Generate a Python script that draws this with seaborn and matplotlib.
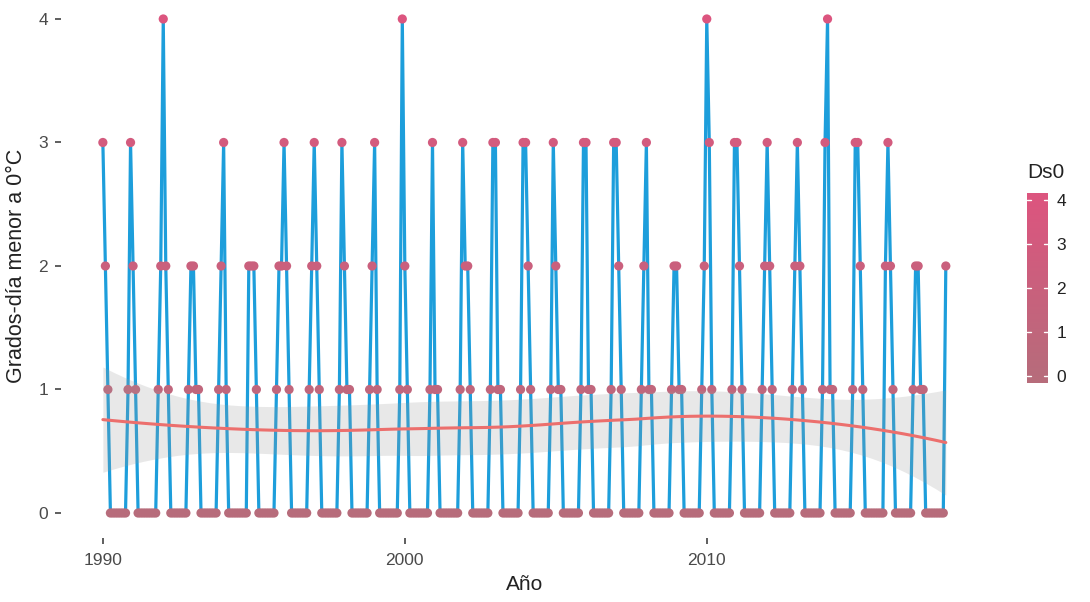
import numpy as np
import pandas as pd
import matplotlib
matplotlib.use("Agg")
import matplotlib.pyplot as plt
import seaborn as sns
from matplotlib.colors import LinearSegmentedColormap

# Monthly degree-days below 0 °C (Jan..Dec) for each year
years = list(range(1990, 2018))
ds0 = [
    [3, 2, 1, 0, 0, 0, 0, 0, 0, 0, 1, 3],  # 1990
    [2, 1, 0, 0, 0, 0, 0, 0, 0, 0, 1, 2],  # 1991
    [4, 2, 1, 0, 0, 0, 0, 0, 0, 0, 1, 2],  # 1992
    [2, 1, 1, 0, 0, 0, 0, 0, 0, 0, 1, 2],  # 1993
    [3, 1, 0, 0, 0, 0, 0, 0, 0, 0, 2, 2],  # 1994
    [2, 1, 0, 0, 0, 0, 0, 0, 0, 1, 2, 2],  # 1995
    [3, 2, 1, 0, 0, 0, 0, 0, 0, 0, 1, 2],  # 1996
    [3, 2, 1, 0, 0, 0, 0, 0, 0, 0, 1, 3],  # 1997
    [2, 1, 1, 0, 0, 0, 0, 0, 0, 0, 1, 2],  # 1998
    [3, 1, 0, 0, 0, 0, 0, 0, 0, 0, 1, 4],  # 1999
    [2, 1, 0, 0, 0, 0, 0, 0, 0, 0, 1, 3],  # 2000
    [1, 1, 0, 0, 0, 0, 0, 0, 0, 0, 1, 3],  # 2001
    [2, 2, 1, 0, 0, 0, 0, 0, 0, 0, 1, 3],  # 2002
    [3, 1, 1, 0, 0, 0, 0, 0, 0, 0, 1, 3],  # 2003
    [3, 2, 1, 0, 0, 0, 0, 0, 0, 0, 1, 3],  # 2004
    [2, 1, 1, 0, 0, 0, 0, 0, 0, 0, 1, 3],  # 2005
    [3, 1, 1, 0, 0, 0, 0, 0, 0, 0, 1, 3],  # 2006
    [3, 2, 1, 0, 0, 0, 0, 0, 0, 0, 1, 2],  # 2007
    [3, 1, 1, 0, 0, 0, 0, 0, 0, 0, 1, 2],  # 2008
    [2, 1, 1, 0, 0, 0, 0, 0, 0, 0, 1, 2],  # 2009
    [4, 3, 1, 0, 0, 0, 0, 0, 0, 0, 1, 3],  # 2010
    [3, 2, 1, 0, 0, 0, 0, 0, 0, 0, 1, 2],  # 2011
    [3, 2, 1, 0, 0, 0, 0, 0, 0, 0, 1, 2],  # 2012
    [3, 2, 1, 0, 0, 0, 0, 0, 0, 0, 1, 3],  # 2013
    [4, 1, 1, 0, 0, 0, 0, 0, 0, 0, 1, 3],  # 2014
    [3, 2, 1, 0, 0, 0, 0, 0, 0, 0, 0, 2],  # 2015
    [3, 2, 1, 0, 0, 0, 0, 0, 0, 0, 1, 2],  # 2016
    [2, 1, 1, 0, 0, 0, 0, 0, 0, 0, 0, 2],  # 2017
]
x_ticks = [1990, 2000, 2010]
y_ticks = [0, 1, 2, 3, 4]
legend_ticks = [0, 1, 2, 3, 4]

# Long table: one row per month, time as decimal year
fecha, valor = [], []
for yr, vals in zip(years, ds0):
    for m, v in enumerate(vals):
        fecha.append(yr + m / 12.0)
        valor.append(v)
df = pd.DataFrame({"fecha": fecha, "Ds0": valor})


def loess_operator(x, x0, span=0.75):
    """Rows of the local-quadratic tricube smoother evaluated at x0."""
    n = len(x)
    q = int(np.floor(n * span))
    rows = []
    for c in np.atleast_1d(x0):
        d = np.abs(x - c)
        h = np.sort(d)[q - 1]
        w = np.clip(1 - (d / h) ** 3, 0, None) ** 3
        A = np.column_stack([np.ones(n), x - c, (x - c) ** 2])
        AW = A.T * w
        coef = np.linalg.solve(AW @ A, AW)
        rows.append(coef[0])
    return np.array(rows)


x = df["fecha"].to_numpy()
y = df["Ds0"].to_numpy(dtype=float)
L = loess_operator(x, x)
R = np.eye(len(x)) - L
RtR = R.T @ R
delta1 = np.trace(RtR)
delta2 = np.trace(RtR @ RtR)
resid = y - L @ y
s = np.sqrt(np.sum(resid ** 2) / delta1)
nu = delta1 ** 2 / delta2
z = 1.959964
tq = z + (z ** 3 + z) / (4 * nu)

xg = np.linspace(x.min(), x.max(), 80)
Lg = loess_operator(x, xg)
fit = Lg @ y
se = s * np.sqrt(np.sum(Lg ** 2, axis=1))
smooth = pd.DataFrame({"fecha": xg, "fit": fit, "lo": fit - tq * se, "hi": fit + tq * se})

# Styling
blue = "#1d9edb"
smooth_col = "#ec6f6d"
cmap = LinearSegmentedColormap.from_list("ds0", ["#b76c7b", "#dc557f"])

sns.set_theme(style="white")
plt.rcParams["font.family"] = ["Liberation Sans", "DejaVu Sans"]

fig = plt.figure(figsize=(10.9, 6.02), dpi=100)
ax = fig.add_axes([0.0557, 0.1068, 0.8507, 0.9027])

sns.lineplot(data=df, x="fecha", y="Ds0", estimator=None, color=blue,
             linewidth=2.3, ax=ax, zorder=2)
sns.scatterplot(data=df, x="fecha", y="Ds0", hue="Ds0", palette=cmap,
                hue_norm=(0, 4), s=44, edgecolor="none", legend=False,
                ax=ax, zorder=3)
ax.fill_between(smooth["fecha"], smooth["lo"], smooth["hi"],
                color="#9a9a9a", alpha=0.22, linewidth=0, zorder=4)
sns.lineplot(data=smooth, x="fecha", y="fit", color=smooth_col,
             linewidth=2.2, ax=ax, zorder=5)

ax.set_xlim(1988.604, 2019.313)
ax.set_ylim(-0.2, 4.2)
ax.set_xticks(x_ticks)
ax.set_xticklabels([str(t) for t in x_ticks])
ax.set_yticks(y_ticks)
ax.set_yticklabels([str(t) for t in y_ticks])
ax.tick_params(axis="both", which="major", length=4, width=1.1,
               color="#333333", labelcolor="#4a4a4a", labelsize=12.5,
               direction="out", bottom=True, left=True, pad=5)
ax.tick_params(axis="x", pad=7)
ax.set_xlabel("Año", fontsize=15, color="#222222", labelpad=5)
ax.set_ylabel("Grados-día menor a 0°C", fontsize=15.5, color="#222222",
              labelpad=8)
for sp in ax.spines.values():
    sp.set_visible(False)
ax.set_facecolor("white")
ax.grid(False)

# Colour bar legend
cax = fig.add_axes([1027 / 1090, (602 - 383) / 602, 21 / 1090, 190 / 602])
grad = np.linspace(4.15, -0.15, 200).reshape(-1, 1)
cax.imshow(grad, extent=[0, 1, -0.15, 4.15], aspect="auto", cmap=cmap,
           vmin=0, vmax=4)
cax.set_xlim(0, 1)
cax.set_ylim(-0.15, 4.15)
cax.set_xticks([])
cax.set_yticks(legend_ticks)
cax.yaxis.tick_right()
cax.tick_params(axis="y", length=0, labelsize=12.5, labelcolor="#222222", pad=6)
for t in legend_ticks:
    cax.plot([0, 0.2], [t, t], color="white", lw=1.0)
    cax.plot([0.8, 1], [t, t], color="white", lw=1.0)
for sp in cax.spines.values():
    sp.set_visible(False)
fig.text(1027 / 1090, (602 - 172) / 602, "Ds0", fontsize=15, color="#222222",
         ha="left", va="center")

fig.savefig("out.png", dpi=100, facecolor="white")
